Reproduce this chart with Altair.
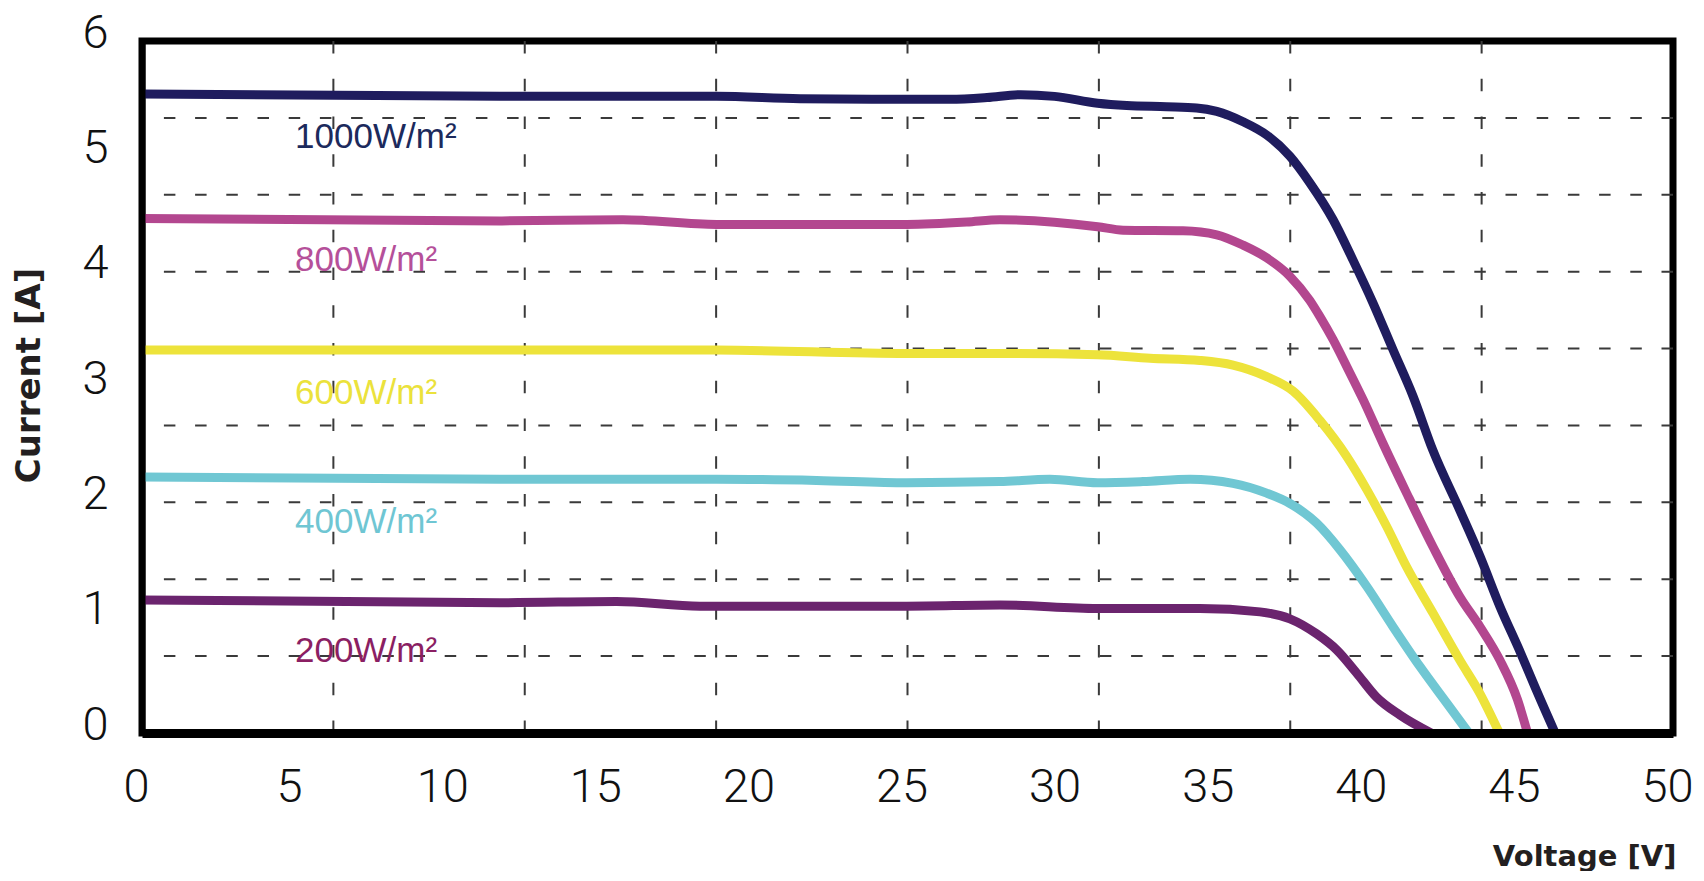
import altair as alt
import pandas as pd

# ---------------- data ----------------
series_names = ["1000W/m²", "800W/m²", "600W/m²", "400W/m²", "200W/m²"]
line_colors = ["#1f1c5e", "#b3478f", "#ede33b", "#70c7d3", "#6b246e"]
label_colors = ["#1c2a5c", "#b5509a", "#ebe23c", "#6fc6d3", "#8b1f63"]

v1000 = [0, 11.69, 18.77, 21.49, 24.98, 26.39, 27.6, 28.7, 29.8, 31.21, 32.16,
         33.46, 34.44, 35.10, 35.96, 36.73, 37.49, 38.14, 38.90, 39.55, 40.20,
         40.86, 41.51, 42.16, 43.04, 43.70, 44.35, 45.03, 45.49, 46.15]
i1000 = [5.54, 5.52, 5.52, 5.50, 5.495, 5.495, 5.51, 5.535, 5.52, 5.46, 5.44,
         5.43, 5.42, 5.39, 5.30, 5.185, 5.00, 4.77, 4.45, 4.10, 3.73,
         3.32, 2.92, 2.45, 1.93, 1.53, 1.095, 0.69, 0.40, 0.0]

v800 = [0, 11.69, 15.71, 18.77, 24.98, 26.93, 28.02, 31.21, 32.04, 34.00,
        35.10, 35.96, 36.73, 37.49, 38.14, 38.47, 38.90, 39.34, 39.88, 40.53,
        41.30, 42.16, 43.04, 43.70, 44.35, 44.92, 45.25]
i800 = [4.46, 4.44, 4.45, 4.41, 4.41, 4.43, 4.45, 4.39, 4.36, 4.355,
        4.32, 4.23, 4.12, 3.96, 3.75, 3.61, 3.41, 3.18, 2.89, 2.51,
        2.08, 1.615, 1.18, 0.92, 0.63, 0.29, 0.0]

v600 = [0, 11.69, 18.77, 24.98, 28.02, 31.21, 32.92, 34.55, 35.63, 36.73,
        37.59, 38.47, 39.34, 40.00, 40.65, 41.30, 42.16, 43.04, 43.70, 44.33]
i600 = [3.32, 3.32, 3.32, 3.29, 3.29, 3.28, 3.25, 3.23, 3.19, 3.09,
        2.965, 2.71, 2.40, 2.11, 1.79, 1.44, 1.04, 0.63, 0.34, 0.0]

v400 = [0, 11.69, 18.77, 22.03, 24.98, 28.02, 29.65, 31.21, 32.69, 34.23,
        35.63, 36.73, 37.49, 38.36, 39.12, 40.00, 40.86, 41.74, 42.61, 43.33]
i400 = [2.22, 2.20, 2.20, 2.19, 2.17, 2.18, 2.20, 2.17, 2.18, 2.20,
        2.165, 2.08, 1.99, 1.82, 1.59, 1.27, 0.92, 0.575, 0.26, 0.0]

v200 = [0, 11.69, 15.50, 18.22, 24.98, 28.02, 31.21, 34.55, 36.51, 37.49,
        38.36, 39.02, 39.67, 40.32, 41.08, 42.10]
i200 = [1.153, 1.13, 1.14, 1.10, 1.10, 1.11, 1.08, 1.08, 1.05, 0.99,
        0.86, 0.72, 0.52, 0.31, 0.156, 0.0]

label_v = [5.0, 5.0, 5.0, 5.0, 5.0]
label_i = [5.07, 4.01, 2.856, 1.734, 0.616]

volt_ticks = [0, 5, 10, 15, 20, 25, 30, 35, 40, 45, 50]
curr_ticks = [0, 1, 2, 3, 4, 5, 6]
volt_grid = [6.25 * k for k in range(1, 8)]
curr_grid = [6 * k / 9 for k in range(1, 9)]

# ---------------- tables ----------------
rows = []
for name, vs, cs, col in zip(series_names, [v1000, v800, v600, v400, v200],
                             [i1000, i800, i600, i400, i200], line_colors):
    for v, c in zip(vs, cs):
        rows.append({"series": name, "V": v, "I": c, "col": col})
curves = pd.DataFrame(rows)

labels = pd.DataFrame({"series": series_names, "V": label_v, "I": label_i,
                       "col": label_colors})

x_scale = alt.Scale(domain=[0, 50], nice=False, zero=False)
y_scale = alt.Scale(domain=[0, 6], nice=False, zero=False)

NUM_FONT = "Roboto"
LAB_FONT = "Liberation Sans"
TITLE_FONT = "DejaVu Sans"

x_axis = alt.Axis(values=volt_ticks, grid=False, ticks=False, domain=True,
                  domainColor="#000000", domainWidth=9,
                  labelFont=NUM_FONT, labelFontSize=47, labelFontWeight=300,
                  labelColor="#111111",
                  labelPadding=68, labelBaseline="alphabetic", labelOffset=-6,
                  labelFlush=False, labelOverlap=False,
                  title="Voltage [V]", titleFont=TITLE_FONT,
                  titleFontWeight="bold", titleFontSize=29, titleColor="#231f20",
                  titleAlign="right", titleX=1534, titleY=132,
                  titleBaseline="alphabetic", zindex=1)

y_axis = alt.Axis(values=curr_ticks, grid=False, ticks=False, domain=True,
                  domainColor="#000000", domainWidth=6,
                  labelFont=NUM_FONT, labelFontSize=47, labelFontWeight=300,
                  labelColor="#111111",
                  labelPadding=34, labelBaseline="alphabetic", labelOffset=6,
                  labelAlign="right", labelFlush=False, labelOverlap=False,
                  title="Current [A]", titleFont=TITLE_FONT,
                  titleFontWeight="bold", titleFontSize=34, titleColor="#231f20",
                  titleAngle=270, titleAlign="center", titleBaseline="middle",
                  titleX=-113, titleY=334, zindex=1)

hgrid = alt.Chart(pd.DataFrame({"I": curr_grid})).mark_rule(
    color="#3a3a3a", strokeWidth=2, strokeDash=[11.5, 19.7]
).encode(
    y=alt.Y("I:Q", scale=y_scale, axis=y_axis),
)

vgrid = alt.Chart(pd.DataFrame({"V": volt_grid})).mark_rule(
    color="#3a3a3a", strokeWidth=2, strokeDash=[12.5, 25.25]
).encode(
    x=alt.X("V:Q", scale=x_scale, axis=x_axis),
)

lines = alt.Chart(curves).mark_line(
    strokeWidth=9, interpolate="monotone", strokeJoin="round"
).encode(
    x=alt.X("V:Q", scale=x_scale, axis=x_axis),
    y=alt.Y("I:Q", scale=y_scale, axis=y_axis),
    color=alt.Color("col:N", scale=None),
    detail="series:N",
    order="V:Q",
)

texts = alt.Chart(labels).mark_text(
    align="left", baseline="alphabetic", font=LAB_FONT, fontSize=35
).encode(
    x=alt.X("V:Q", scale=x_scale, axis=x_axis),
    y=alt.Y("I:Q", scale=y_scale, axis=y_axis),
    text="series:N",
    color=alt.Color("col:N", scale=None),
)

chart = alt.layer(hgrid, vgrid, lines, texts).properties(
    width=1531, height=692,
    padding={"left": 134, "top": 33, "right": 23, "bottom": 138},
    autosize=alt.AutoSizeParams(type="none"),
    background="#ffffff",
).configure_view(stroke="#000000", strokeWidth=7)

chart.save("out.html", embed_options={"renderer": "svg", "actions": False})
